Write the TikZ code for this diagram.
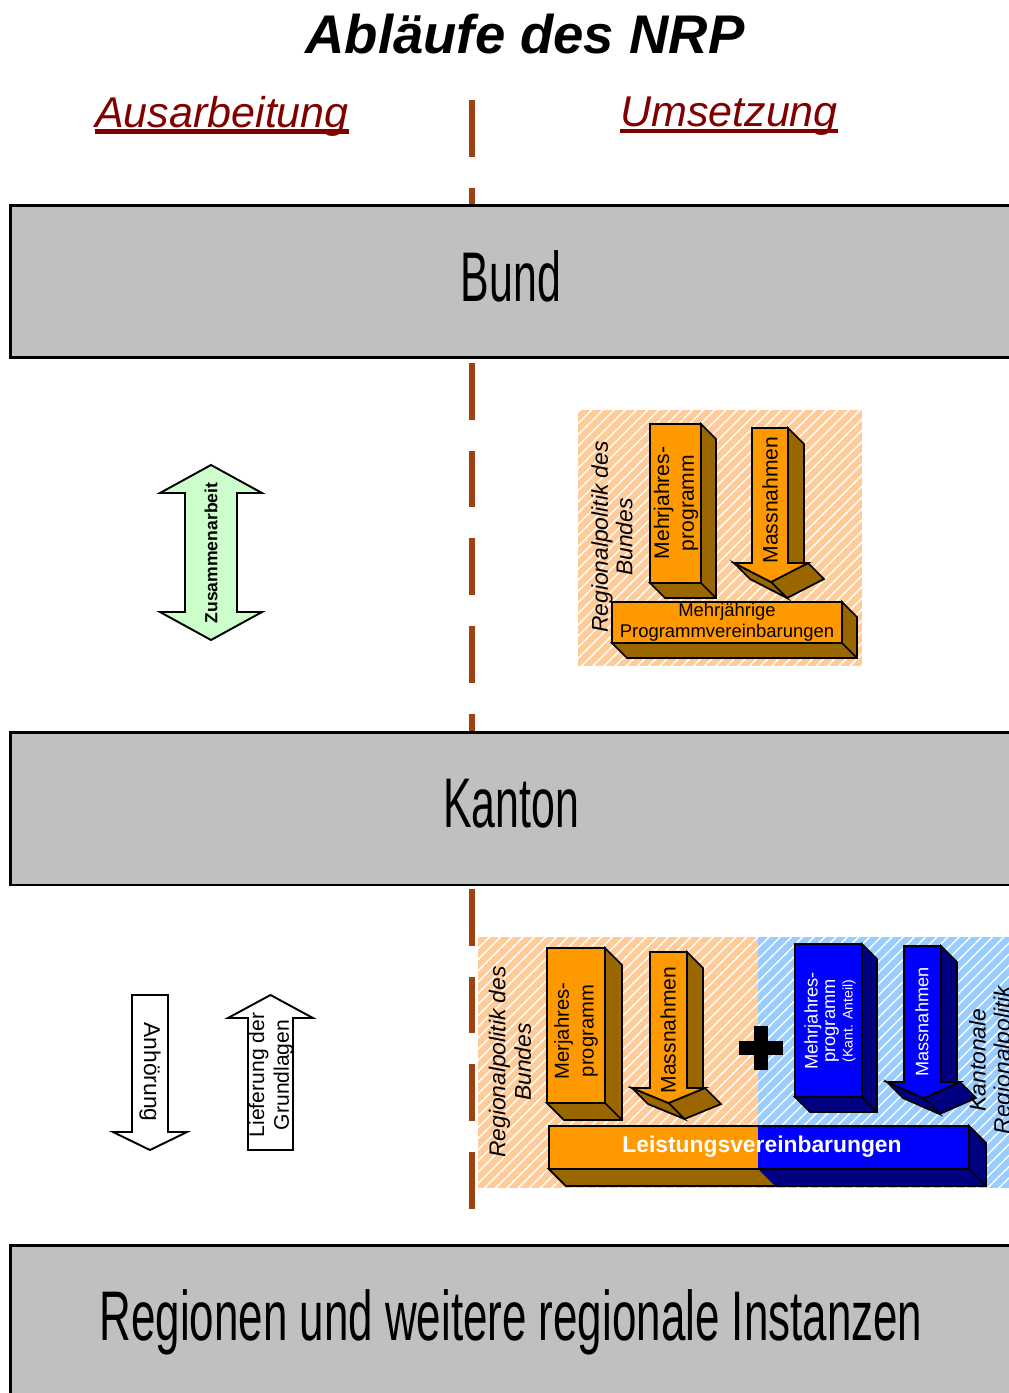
\documentclass[tikz,border=0pt]{standalone}
\usepackage{fontspec}
\setmainfont{Liberation Sans}
\newfontfamily\condfont[FakeStretch=0.61]{Liberation Sans}
\newfontfamily\widecondfont[FakeStretch=0.625]{Liberation Sans}
\usetikzlibrary{patterns.meta}

\definecolor{tiergray}{HTML}{C0C0C0}
\definecolor{headred}{HTML}{800000}
\definecolor{dashbrown}{HTML}{A0420F}
\definecolor{peach}{HTML}{FFCC99}
\definecolor{skyblue}{HTML}{99CCFF}
\definecolor{mint}{HTML}{CCFFCC}
\definecolor{nrporange}{HTML}{FF9900}
\definecolor{nrpbrown}{HTML}{996600}
\definecolor{nrpblue}{HTML}{0000FF}
\definecolor{nrpnavy}{HTML}{000080}

\newcommand{\cuboid}[7]{%
  \filldraw[fill=#6, draw=black, line width=1pt] (#3,#2) -- ++(#7,#7) -- (#3+#7,#4+#7) -- (#1+#7,#4+#7) -- (#1,#4) -- (#3,#4) -- cycle;
  \draw[line width=1pt] (#3,#4) -- ++(#7,#7);
  \filldraw[fill=#5, draw=black, line width=1pt] (#1,#2) rectangle (#3,#4);
}

\newcommand{\blockarrow}[9]{%
  \filldraw[fill=#9, draw=black, line width=1pt] (#2,#3) -- ++(16,16) -- (#2+16,#4+16) -- (#2,#4) -- cycle;
  \filldraw[fill=#9, draw=black, line width=1pt] (#6,#4) -- ++(16,16) -- ({(#5+#6)/2+16},#7+16) -- ({(#5+#6)/2},#7) -- cycle;
  \filldraw[fill=#9, draw=black, line width=1pt] ({(#5+#6)/2},#7) -- ++(16,16) -- (#5+16,#4+16) -- (#5,#4) -- cycle;
  \filldraw[fill=#8, draw=black, line width=1pt] (#1,#3) -- (#2,#3) -- (#2,#4) -- (#6,#4) -- ({(#5+#6)/2},#7) -- (#5,#4) -- (#1,#4) -- cycle;
}

\begin{document}
\begin{tikzpicture}[x=0.02cm, y=-0.02cm,
  tier/.style={draw, line width=1.7pt, fill=tiergray, minimum width=20.04cm, inner sep=0pt, font=\condfont\fontsize{40}{44}\selectfont},
  phase/.style={inner sep=0pt, text=headred, font=\itshape\fontsize{24.5}{28}\selectfont},
  underl/.style={headred, line width=2.3pt},
  divider/.style={dashbrown, line width=3.4pt, dash pattern=on 32.3pt off 17.6pt},
  hatch/.style={pattern={Lines[angle=45, distance=4.5pt, line width=0.8pt]}, pattern color=white},
  vtext/.style={rotate=90, align=center, inner sep=0pt},
  outline/.style={draw=black, line width=1.1pt}
]
  \useasboundingbox (0,0) rectangle (1008,1393);

  \node[inner sep=0pt, font=\bfseries\itshape\fontsize{31}{36}\selectfont] (title) at (525,34) {Abläufe des NRP};
  \node[phase] (ausarb) at (222,116) {Ausarbeitung};
  \node[phase] (umsetz) at (729,116) {Umsetzung};
  \draw[underl] ([yshift=2.8pt]ausarb.south west) -- ([yshift=2.8pt]ausarb.south east);
  \draw[underl] ([yshift=2.8pt]umsetz.south west) -- ([yshift=2.8pt]umsetz.south east);

  \fill[peach] (578,410) rectangle (862,666);
  \fill[hatch] (578,410) rectangle (862,666);
  \fill[peach] (478,937) rectangle (758,1188);
  \fill[hatch] (478,937) rectangle (758,1188);
  \fill[skyblue] (758,937) rectangle (1010,1188);
  \fill[hatch] (758,937) rectangle (1010,1188);

  \draw[divider] (472,100) -- (472,1220);

  \node[tier, minimum height=3.06cm, text depth=6pt] (bund) at (511,281.5) {Bund};
  \node[tier, minimum height=3.06cm, text depth=6pt] (kanton) at (511,808.5) {Kanton};
  \node[tier, minimum height=3.1cm, font=\widecondfont\fontsize{40}{44}\selectfont] (regionen) at (511,1322.5) {Regionen und weitere regionale Instanzen};

  \filldraw[fill=mint, outline] (211,465) -- (262,493) -- (237,493) -- (237,612) -- (262,612) -- (211,640) -- (160,612) -- (185,612) -- (185,493) -- (160,493) -- cycle;
  \node[vtext, font=\bfseries\fontsize{10}{12}\selectfont] (zusammen) at (211,553) {Zusammenarbeit};

  \filldraw[fill=white, outline] (132,995) -- (168,995) -- (168,1132) -- (187,1132) -- (150,1150) -- (113,1132) -- (132,1132) -- cycle;
  \node[rotate=-90, inner sep=0pt, font=\fontsize{13}{15}\selectfont] (anhoerung) at (150,1072) {Anhörung};
  \filldraw[fill=white, outline] (248,1150) -- (248,1018) -- (228,1018) -- (270.5,995) -- (313,1018) -- (293,1018) -- (293,1150) -- cycle;
  \node[vtext, font=\fontsize{12}{14}\selectfont] (lieferung) at (271,1075) {Lieferung der\\Grundlagen};

  \node[vtext, font=\itshape\fontsize{13}{14}\selectfont] (rpbund) at (612,537) {Regionalpolitik des\\Bundes};
  \cuboid{650}{424}{701}{583}{nrporange}{nrpbrown}{15}
  \node[vtext, font=\fontsize{12}{14}\selectfont] (mjprog) at (676,503) {Mehrjahres-\\programm};
  \blockarrow{752}{788}{428}{563}{734}{808}{582}{nrporange}{nrpbrown}
  \node[vtext, font=\fontsize{12}{14}\selectfont] (massn) at (770,500) {Massnahmen};
  \cuboid{612}{602}{842}{643}{nrporange}{nrpbrown}{15}
  \node[align=center, inner sep=0pt, font=\fontsize{10.5}{12}\selectfont] (mjpv) at (727,622) {Mehrjährige\\Programmvereinbarungen};

  \node[vtext, font=\itshape\fontsize{13}{14.5}\selectfont] (rpbund2) at (510,1062) {Regionalpolitik des\\Bundes};
  \cuboid{547}{948}{605}{1103}{nrporange}{nrpbrown}{17}
  \node[vtext, font=\fontsize{11.5}{14}\selectfont] (merjprog) at (576,1031) {Merjahres-\\programm};
  \blockarrow{650}{687}{952}{1088}{632}{705}{1103}{nrporange}{nrpbrown}
  \node[vtext, font=\fontsize{12}{14}\selectfont] (massn2) at (668,1030) {Massnahmen};
  \draw[line width=8.5pt] (739,1048) -- (783,1048) (761,1026) -- (761,1070);
  \cuboid{795}{944}{862}{1097}{nrpblue}{nrpnavy}{15}
  \node[vtext, text=white, font=\fontsize{10.4}{10}\selectfont] (mjkant) at (830,1021) {Mehrjahres-\\programm\\{\fontsize{8}{10}\selectfont(Kant. Anteil)}};
  \blockarrow{904}{941}{946}{1082}{887}{960}{1098}{nrpblue}{nrpnavy}
  \node[vtext, text=white, font=\fontsize{10.3}{12}\selectfont] (massn3) at (922,1022) {Massnahmen};
  \node[vtext, font=\itshape\fontsize{13}{14}\selectfont] (kantrp) at (992,1060) {Kantonale\\Regionalpolitik};

  \filldraw[fill=nrpnavy, draw=black, line width=1pt] (969,1126) -- ++(17,17) -- (986,1186) -- (566,1186) -- (549,1169) -- (969,1169) -- cycle;
  \fill[nrpbrown] (549,1169) -- (758,1169) -- (775,1186) -- (566,1186) -- cycle;
  \draw[line width=1pt] (549,1169) -- (566,1186) -- (986,1186) -- (986,1143) -- (969,1126) (969,1169) -- (986,1186);
  \fill[nrpblue] (549,1126) rectangle (969,1169);
  \fill[nrporange] (549,1126) rectangle (758,1169);
  \draw[line width=1pt] (549,1126) rectangle (969,1169);
  \node[text=white, inner sep=0pt, font=\bfseries\fontsize{13}{15}\selectfont] (leistung) at (762,1147) {Leistungsvereinbarungen};
\end{tikzpicture}
\end{document}
